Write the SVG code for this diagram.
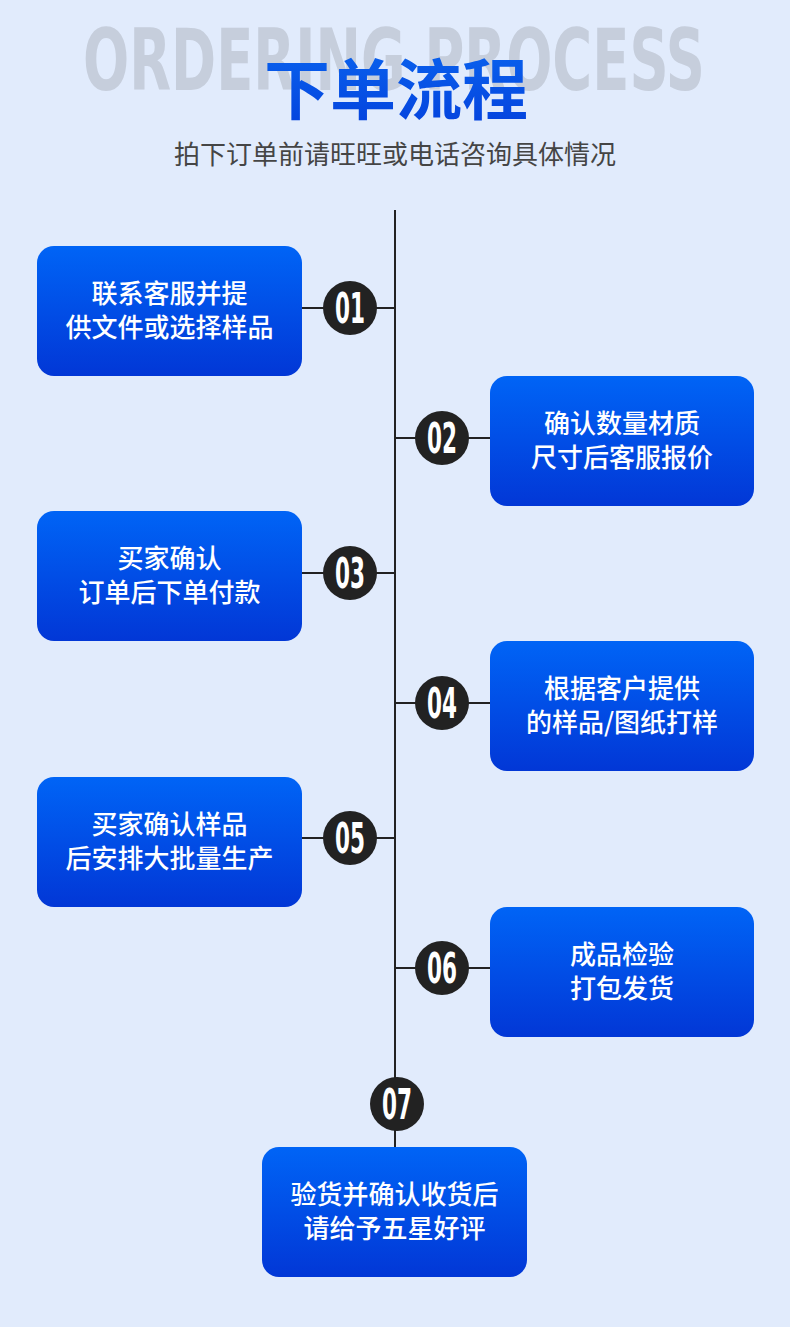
<svg xmlns="http://www.w3.org/2000/svg" width="790" height="1327" viewBox="0 0 790 1327">
<defs>
<linearGradient id="bx" x1="0" y1="0" x2="0" y2="1">
<stop offset="0" stop-color="#0064F6"/>
<stop offset="1" stop-color="#0237D6"/>
</linearGradient>
<linearGradient id="tt" x1="0" y1="0" x2="0" y2="1">
<stop offset="0" stop-color="#0A66F0"/>
<stop offset="1" stop-color="#0440DC"/>
</linearGradient>
<style>
.box{fill:url(#bx)}
.bt{font-family:"Noto Sans CJK SC","Noto Sans",sans-serif;font-size:26px;fill:#fff;text-anchor:middle;font-weight:500}
.cir{fill:#222}
.num{font-family:"DejaVu Sans Condensed","Liberation Sans",sans-serif;font-weight:bold;font-size:42px;fill:#fff;text-anchor:middle}
.ln{stroke:#222;stroke-width:2;fill:none}
</style>
</defs>
<rect width="790" height="1327" fill="#E1EBFC"/>
<g id="header">
<text x="394" y="90" font-family="DejaVu Sans Condensed,sans-serif" font-weight="bold" font-size="86" fill="#C6CEDC" text-anchor="middle" textLength="622" lengthAdjust="spacingAndGlyphs">ORDERING PROCESS</text>
<text x="396" y="114" font-family="Noto Sans CJK SC,sans-serif" font-weight="bold" font-size="66" fill="url(#tt)" text-anchor="middle">下单流程</text>
<text x="395" y="164" font-family="Noto Sans CJK SC,sans-serif" font-size="26" fill="#454545" text-anchor="middle">拍下订单前请旺旺或电话咨询具体情况</text>
</g>
<g id="connectors">
<line class="ln" x1="395" y1="210" x2="395" y2="1147"/>
<line class="ln" x1="302" y1="308" x2="395" y2="308"/>
<line class="ln" x1="395" y1="438" x2="490" y2="438"/>
<line class="ln" x1="302" y1="573" x2="395" y2="573"/>
<line class="ln" x1="395" y1="703" x2="490" y2="703"/>
<line class="ln" x1="302" y1="838" x2="395" y2="838"/>
<line class="ln" x1="395" y1="968" x2="490" y2="968"/>
</g>
<g id="step1">
<rect class="box" x="37" y="246" width="265" height="130" rx="17"/>
<text class="bt" x="169.5" y="303">联系客服并提</text>
<text class="bt" x="169.5" y="337">供文件或选择样品</text>
<circle class="cir" cx="350" cy="308" r="27"/>
<text class="num" x="350" y="323" textLength="30" lengthAdjust="spacingAndGlyphs">01</text>
</g>
<g id="step2">
<rect class="box" x="490" y="376" width="264" height="130" rx="17"/>
<text class="bt" x="622" y="433">确认数量材质</text>
<text class="bt" x="622" y="467">尺寸后客服报价</text>
<circle class="cir" cx="442" cy="438" r="27"/>
<text class="num" x="442" y="453" textLength="30" lengthAdjust="spacingAndGlyphs">02</text>
</g>
<g id="step3">
<rect class="box" x="37" y="511" width="265" height="130" rx="17"/>
<text class="bt" x="169.5" y="568">买家确认</text>
<text class="bt" x="169.5" y="602">订单后下单付款</text>
<circle class="cir" cx="350" cy="573" r="27"/>
<text class="num" x="350" y="588" textLength="30" lengthAdjust="spacingAndGlyphs">03</text>
</g>
<g id="step4">
<rect class="box" x="490" y="641" width="264" height="130" rx="17"/>
<text class="bt" x="622" y="698">根据客户提供</text>
<text class="bt" x="622" y="732">的样品/图纸打样</text>
<circle class="cir" cx="442" cy="703" r="27"/>
<text class="num" x="442" y="718" textLength="30" lengthAdjust="spacingAndGlyphs">04</text>
</g>
<g id="step5">
<rect class="box" x="37" y="777" width="265" height="130" rx="17"/>
<text class="bt" x="169.5" y="834">买家确认样品</text>
<text class="bt" x="169.5" y="868">后安排大批量生产</text>
<circle class="cir" cx="350" cy="838" r="27"/>
<text class="num" x="350" y="853" textLength="30" lengthAdjust="spacingAndGlyphs">05</text>
</g>
<g id="step6">
<rect class="box" x="490" y="907" width="264" height="130" rx="17"/>
<text class="bt" x="622" y="964">成品检验</text>
<text class="bt" x="622" y="998">打包发货</text>
<circle class="cir" cx="442" cy="968" r="27"/>
<text class="num" x="442" y="983" textLength="30" lengthAdjust="spacingAndGlyphs">06</text>
</g>
<g id="step7">
<circle class="cir" cx="397" cy="1104" r="27"/>
<text class="num" x="397" y="1119" textLength="30" lengthAdjust="spacingAndGlyphs">07</text>
<rect class="box" x="262" y="1147" width="265" height="130" rx="17"/>
<text class="bt" x="394.5" y="1204">验货并确认收货后</text>
<text class="bt" x="394.5" y="1238">请给予五星好评</text>
</g>
</svg>
